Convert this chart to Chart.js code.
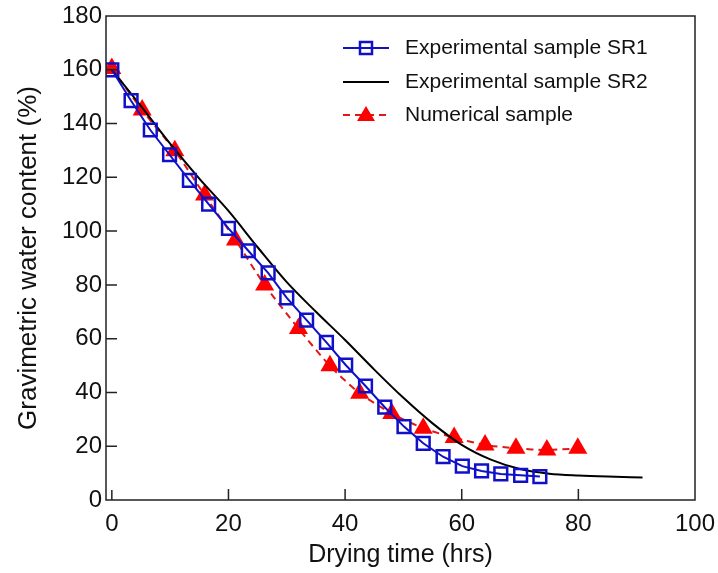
<!DOCTYPE html>
<html>
<head>
<meta charset="utf-8">
<script src="https://cdn.jsdelivr.net/npm/chart.js@4/dist/chart.umd.min.js"></script>
<style>
  html, body { margin: 0; padding: 0; background: #fff; }
</style>
</head>
<body>
<canvas id="chart" width="718" height="573"></canvas>
<script>
// data
const sr1Time = [0, 3.3, 6.6, 9.9, 13.3, 16.6, 20, 23.4, 26.8, 30, 33.4, 36.8, 40.1, 43.5, 46.8, 50.1, 53.4, 56.8, 60.1, 63.4, 66.7, 70.1, 73.4];
const sr1Water = [160, 148.5, 137.6, 128.4, 118.9, 110, 101, 92.7, 84.5, 75.2, 66.9, 58.6, 50.2, 42.4, 34.5, 27.3, 21.1, 16.1, 12.6, 10.8, 9.7, 9.2, 8.7];

const sr2Time = [0, 5, 10, 15, 20, 25, 30, 35, 40, 45, 50, 55, 60, 65, 70, 75, 80, 85, 91];
const sr2Water = [160, 146.5, 132.5, 119.5, 107.5, 94, 81, 70, 59.5, 48.5, 38, 28.5, 20.5, 15, 11.5, 9.8, 9.1, 8.7, 8.4];

const numTime = [0, 5.2, 10.8, 15.9, 21.2, 26.2, 32, 37.4, 42.5, 48, 53.4, 58.7, 64, 69.3, 74.6, 79.9];
const numWater = [160.5, 145, 129.9, 113.4, 96.7, 80, 63.8, 49.9, 39.7, 32.2, 26.7, 23.2, 20.5, 19.2, 18.6, 19.2];

const seriesNames = ["Experimental sample SR1", "Experimental sample SR2", "Numerical sample"];
const xTicks = [0, 20, 40, 60, 80, 100];
const yTicks = [0, 20, 40, 60, 80, 100, 120, 140, 160, 180];

const FONT = "'Liberation Sans', Arial, sans-serif";
const BLUE = "#1010c8";
const RED = "#ff0000";

function toPoints(xs, ys) {
  return xs.map((x, i) => ({ x: x, y: ys[i] }));
}

// frame, inward ticks and the in-plot legend
const decorations = {
  id: "decorations",
  afterDraw(chart) {
    const ctx = chart.ctx;
    const area = chart.chartArea;
    const xs = chart.scales.x;
    const ys = chart.scales.y;
    ctx.save();
    ctx.strokeStyle = "#222";
    ctx.lineWidth = 1.5;
    ctx.strokeRect(area.left, area.top, area.right - area.left, area.bottom - area.top);

    ctx.beginPath();
    xTicks.forEach((v) => {
      if (v <= 0 || v >= 100) return;
      const px = xs.getPixelForValue(v);
      ctx.moveTo(px, area.bottom);
      ctx.lineTo(px, area.bottom - 11);
    });
    const x0 = xs.getPixelForValue(0);
    ctx.moveTo(x0, area.bottom);
    ctx.lineTo(x0, area.bottom - 10);
    yTicks.forEach((v) => {
      if (v <= 0 || v >= 180) return;
      const py = ys.getPixelForValue(v);
      ctx.moveTo(area.left, py);
      ctx.lineTo(area.left + 11, py);
    });
    ctx.stroke();

    // legend
    const rows = [48, 82, 115];
    chart.data.datasets.forEach((ds, i) => {
      const y = rows[i];
      ctx.save();
      ctx.strokeStyle = ds.borderColor;
      ctx.lineWidth = 2;
      ctx.setLineDash(ds.borderDash || []);
      ctx.beginPath();
      ctx.moveTo(343, y);
      ctx.lineTo(389, y);
      ctx.stroke();
      ctx.setLineDash([]);
      if (ds.pointStyle === "rect") {
        ctx.strokeStyle = ds.pointBorderColor;
        ctx.lineWidth = 2.5;
        ctx.strokeRect(360, y - 6, 12, 12);
      } else if (ds.pointStyle === "triangle") {
        ctx.fillStyle = ds.pointBackgroundColor;
        ctx.beginPath();
        ctx.moveTo(366, y - 9);
        ctx.lineTo(375, y + 6);
        ctx.lineTo(357, y + 6);
        ctx.closePath();
        ctx.fill();
      }
      ctx.restore();
      ctx.fillStyle = "#111";
      ctx.font = "21px " + FONT;
      ctx.textBaseline = "middle";
      ctx.textAlign = "left";
      ctx.fillText(ds.label, 405, y);
    });
    ctx.restore();
  }
};

new Chart(document.getElementById("chart"), {
  type: "line",
  data: {
    datasets: [
      {
        label: seriesNames[0],
        data: toPoints(sr1Time, sr1Water),
        borderColor: BLUE,
        borderWidth: 2,
        pointStyle: "rect",
        pointRadius: 9,
        pointBorderWidth: 2.5,
        pointBorderColor: BLUE,
        pointBackgroundColor: "rgba(0,0,0,0)",
        tension: 0
      },
      {
        label: seriesNames[1],
        data: toPoints(sr2Time, sr2Water),
        borderColor: "#000",
        borderWidth: 2,
        pointRadius: 0,
        pointStyle: false,
        cubicInterpolationMode: "monotone"
      },
      {
        label: seriesNames[2],
        data: toPoints(numTime, numWater),
        borderColor: "#e01818",
        borderWidth: 2,
        borderDash: [7, 5],
        pointStyle: "triangle",
        pointRadius: 11,
        pointBorderWidth: 0,
        pointBorderColor: RED,
        pointBackgroundColor: RED,
        tension: 0.25
      }
    ]
  },
  options: {
    responsive: false,
    animation: false,
    layout: { padding: { top: 16, right: 23, left: 0, bottom: 0 } },
    plugins: { legend: { display: false }, tooltip: { enabled: false } },
    scales: {
      x: {
        type: "linear",
        min: -1,
        max: 100,
        afterBuildTicks: (s) => { s.ticks = xTicks.map((v) => ({ value: v })); },
        afterFit: (s) => { s.height = 73; s.paddingLeft = 0; s.paddingRight = 0; },
        grid: { display: false, drawTicks: false },
        border: { display: false },
        ticks: { font: { family: FONT, size: 24 }, color: "#111", padding: 10, maxRotation: 0 },
        title: {
          display: true,
          text: "Drying time (hrs)",
          font: { family: FONT, size: 25 },
          color: "#111",
          padding: { top: 0, bottom: 3 }
        }
      },
      y: {
        type: "linear",
        min: 0,
        max: 180,
        afterBuildTicks: (s) => { s.ticks = yTicks.map((v) => ({ value: v })); },
        afterFit: (s) => { s.width = 106; s.paddingTop = 0; s.paddingBottom = 0; },
        grid: { display: false, drawTicks: false },
        border: { display: false },
        ticks: { font: { family: FONT, size: 24 }, color: "#111", padding: 4 },
        title: {
          display: true,
          text: "Gravimetric water content (%)",
          font: { family: FONT, size: 26 },
          color: "#111",
          padding: { top: 13, bottom: 0 }
        }
      }
    }
  },
  plugins: [decorations]
});
</script>
</body>
</html>
